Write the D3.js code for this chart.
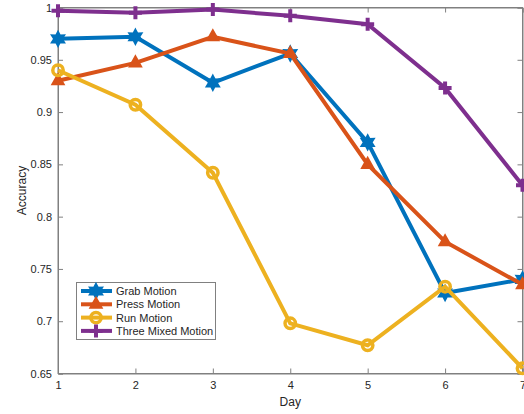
<!DOCTYPE html>
<html><head><meta charset="utf-8">
<script src="https://cdn.jsdelivr.net/npm/d3@7"></script>
<style>body{margin:0;background:#fff;}svg{display:block;}</style>
</head><body>
<script>
const days = [1,2,3,4,5,6,7];
const grab = [0.970,0.972,0.928,0.956,0.871,0.727,0.740];
const press = [0.930,0.947,0.972,0.956,0.850,0.776,0.735];
const run = [0.940,0.907,0.842,0.698,0.677,0.733,0.655];
const mixed = [0.997,0.995,0.998,0.992,0.984,0.923,0.830];
const seriesNames = ["Grab Motion","Press Motion","Run Motion","Three Mixed Motion"];
const yTicks = [0.65,0.7,0.75,0.8,0.85,0.9,0.95,1];
const yTickLabels = ["0.65","0.7","0.75","0.8","0.85","0.9","0.95","1"];

const colors = ["#0072BD","#D95319","#EDB120","#7E2F8E"];
const markers = ["hex","tri","circle","plus"];
const allSeries = [grab,press,run,mixed];

const W=524,H=414;
const L=58,R=522.5,T=7.5,B=373.5;
const svg = d3.select("body").append("svg").attr("width",W).attr("height",H);
const x = d3.scaleLinear().domain([1,7]).range([L,R]);
const y = d3.scaleLinear().domain([0.65,1]).range([B,T]);
const axisColor="#808080", textColor="#262626";
const font="'Liberation Sans', Arial, Helvetica, sans-serif";

// box
svg.append("rect").attr("x",L).attr("y",T).attr("width",R-L).attr("height",B-T)
  .attr("fill","none").attr("stroke",axisColor).attr("stroke-width",1);

const gx = svg.append("g").attr("transform",`translate(0,${B})`)
  .call(d3.axisBottom(x).tickValues(days).tickSize(-5).tickPadding(8).tickFormat(d3.format("d")));
const gxt = svg.append("g").attr("transform",`translate(0,${T})`)
  .call(d3.axisTop(x).tickValues(days).tickSize(-5).tickFormat(""));
const gy = svg.append("g").attr("transform",`translate(${L},0)`)
  .call(d3.axisLeft(y).tickValues(yTicks).tickSize(-5).tickPadding(6).tickFormat((d,i)=>yTickLabels[i]));
const gyr = svg.append("g").attr("transform",`translate(${R},0)`)
  .call(d3.axisRight(y).tickValues(yTicks).tickSize(-5).tickFormat(""));
[gx,gxt,gy,gyr].forEach(g=>{
  g.select(".domain").attr("stroke",axisColor);
  g.selectAll(".tick line").attr("stroke",axisColor);
  g.selectAll(".tick text").attr("fill",textColor).attr("font-size",11).attr("font-family",font);
});

svg.append("text").attr("x",(L+R)/2).attr("y",406).attr("text-anchor","middle")
  .attr("font-family",font).attr("font-size",12).attr("fill",textColor).text("Day");
svg.append("text").attr("transform",`translate(26,${(T+B)/2}) rotate(-90)`).attr("text-anchor","middle")
  .attr("font-family",font).attr("font-size",12).attr("fill",textColor).text("Accuracy");

function markerPath(type, s){
  if(type==="hex"){
    const pts=[];
    for(let i=0;i<12;i++){
      const a=-Math.PI/2+i*Math.PI/6;
      const r=i%2===0?s:s*0.55;
      pts.push([r*Math.cos(a),r*Math.sin(a)]);
    }
    return "M"+pts.map(p=>p.join(",")).join("L")+"Z";
  }
  if(type==="tri"){
    return `M0,${-s}L${s*0.87},${s*0.55}L${-s*0.87},${s*0.55}Z`;
  }
  if(type==="circle"){
    return `M${s},0A${s},${s} 0 1,1 ${-s},0A${s},${s} 0 1,1 ${s},0Z`;
  }
  return `M${-s},0L${s},0M0,${-s}L0,${s}`;
}
const msize=[6.5,6,5.2,6.5];
const line = d3.line().x((d,i)=>x(days[i])).y(d=>y(d));

allSeries.forEach((vals,si)=>{
  const g=svg.append("g");
  g.append("path").attr("d",line(vals)).attr("fill","none").attr("stroke",colors[si])
    .attr("stroke-width",4).attr("stroke-linejoin","miter");
  g.selectAll("path.m").data(vals).enter().append("path").attr("class","m")
    .attr("transform",(d,i)=>`translate(${x(days[i])},${y(d)})`)
    .attr("d",markerPath(markers[si],msize[si]))
    .attr("fill",markers[si]==="hex"||markers[si]==="tri"?colors[si]:"none")
    .attr("stroke",colors[si]).attr("stroke-width",markers[si]==="circle"?3.5:(markers[si]==="plus"?4:2.5));
});

// legend
const lg=svg.append("g");
lg.append("rect").attr("x",76.5).attr("y",282.5).attr("width",139).attr("height",57)
  .attr("fill","#fff").attr("stroke",axisColor).attr("stroke-width",1);
seriesNames.forEach((n,i)=>{
  const yy=291+i*13.3;
  lg.append("line").attr("x1",81).attr("x2",112).attr("y1",yy).attr("y2",yy)
    .attr("stroke",colors[i]).attr("stroke-width",4);
  lg.append("path").attr("transform",`translate(96,${yy})`).attr("d",markerPath(markers[i],msize[i]))
    .attr("fill",markers[i]==="hex"||markers[i]==="tri"?colors[i]:"none")
    .attr("stroke",colors[i]).attr("stroke-width",markers[i]==="circle"?3.5:(markers[i]==="plus"?4:2.5));
  lg.append("text").attr("x",116).attr("y",yy+4).attr("font-family",font).attr("font-size",11)
    .attr("fill",textColor).text(n);
});
</script>
</body></html>
